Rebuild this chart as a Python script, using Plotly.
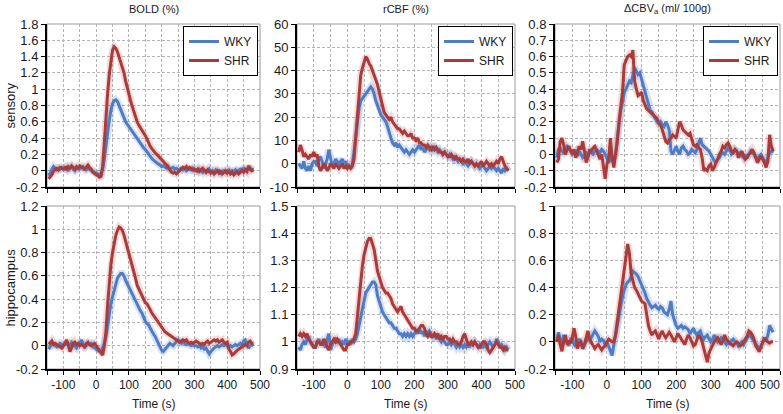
import plotly.graph_objects as go

# time base (s), one sample every 5 s
time_s = list(range(-145, 481, 5))
time_ticks = [-100, 0, 100, 200, 300, 400, 500]

# ---- sensory row ----
bold_sens_wky = [
    -0.06, -0.03, 0.02, 0.05, 0.03, 0.01, 0.03, 0.02, 0.04, 0.03,
    0.02, 0.04, 0.01, 0.03, 0.05, 0.02, 0.00, 0.03, 0.04, 0.02,
    0.03, 0.05, 0.02, 0.01, 0.03, 0.02, 0.01, -0.01, -0.02, -0.03,
    -0.04, -0.05, -0.03, 0.02, 0.15, 0.32, 0.48, 0.62, 0.74, 0.82,
    0.86, 0.87, 0.85, 0.80, 0.74, 0.68, 0.63, 0.60, 0.57, 0.54,
    0.51, 0.48, 0.45, 0.42, 0.39, 0.36, 0.33, 0.30, 0.28, 0.26,
    0.23, 0.21, 0.18, 0.15, 0.13, 0.11, 0.10, 0.08, 0.07, 0.05,
    0.06, 0.04, 0.03, 0.05, 0.02, 0.03, 0.04, 0.02, 0.03, 0.01,
    0.02, 0.03, 0.01, 0.02, 0.00, 0.03, 0.02, 0.01, 0.03, 0.00,
    0.01, -0.01, 0.02, 0.00, -0.02, 0.01, 0.00, -0.01, 0.02, -0.01,
    0.00, -0.02, 0.01, -0.01, 0.00, -0.03, -0.01, 0.00, -0.02, -0.01,
    0.01, -0.02, 0.00, -0.01, 0.01, -0.02, 0.00, 0.02, 0.01, 0.03,
    0.02, 0.00, 0.03, 0.01, 0.02, 0.01,
]
bold_sens_shr = [
    -0.10, -0.08, -0.05, -0.01, 0.02, 0.03, 0.01, 0.04, 0.03, 0.02,
    0.04, 0.02, 0.05, 0.03, 0.06, 0.04, 0.02, 0.05, 0.03, 0.06,
    0.04, 0.03, 0.02, 0.05, 0.07, 0.04, 0.02, -0.02, -0.04, -0.05,
    -0.06, -0.08, -0.07, 0.05, 0.35, 0.68, 0.95, 1.18, 1.36, 1.48,
    1.52, 1.50, 1.46, 1.40, 1.33, 1.27, 1.20, 1.10, 1.01, 0.93,
    0.86, 0.79, 0.72, 0.66, 0.60, 0.56, 0.53, 0.49, 0.46, 0.43,
    0.39, 0.34, 0.30, 0.27, 0.24, 0.22, 0.20, 0.18, 0.16, 0.14,
    0.12, 0.10, 0.07, 0.04, 0.01, -0.02, -0.03, -0.02, -0.04, -0.02,
    0.00, 0.02, 0.04, 0.03, 0.05, 0.02, 0.04, 0.03, 0.01, 0.02,
    0.00, 0.02, -0.01, 0.01, 0.03, 0.00, -0.02, 0.01, -0.01, -0.03,
    -0.01, -0.04, -0.02, 0.00, -0.03, -0.01, -0.04, -0.02, 0.00, -0.03,
    -0.01, -0.04, -0.02, -0.05, -0.03, -0.01, -0.04, -0.02, 0.00, -0.02,
    0.01, -0.01, 0.06, 0.03, 0.00, 0.01,
]
cbf_sens_wky = [
    0, -1, -2, 1, -2, -3, -1, -3, 0, 1,
    1, -1, 2, 3, 1, -2, 0, 2, 6, 3,
    -1, 0, 2, 1, 0, 1, 2, 0, 1, -1,
    -1, -2, 0, 5, 12, 18, 24, 27, 28, 29,
    30, 31, 32, 33, 32, 30, 27, 25, 23, 21,
    20, 19, 18, 16, 13, 11, 9, 8, 9, 7,
    8, 7, 6, 5, 6, 5, 4, 5, 6, 5,
    6, 7, 8, 6, 7, 5, 6, 7, 6, 7,
    6, 7, 6, 5, 6, 5, 4, 5, 4, 3,
    4, 3, 2, 3, 2, 1, 2, 1, 0, 1,
    0, -1, 0, 1, 0, -1, 0, -1, -2, -1,
    -1, -2, -3, -2, -1, -2, -1, -2, -3, -2,
    -3, -4, -2, -3, -2, -3,
]
cbf_sens_shr = [
    5, 8, 6, 3, 4, 3, 2, 4, 3, 5,
    3, 4, -1, -3, -2, 0, -1, -3, -2, 0,
    -1, -2, 0, -1, -2, -1, 0, -2, -1, -2,
    -1, -2, -1, 2, 12, 22, 32, 38, 41, 44,
    46, 45, 43, 42, 40, 38, 36, 34, 31, 28,
    25, 22, 21, 20, 19, 20, 18, 17, 16, 15,
    15, 14, 13, 14, 13, 12, 12, 13, 11, 11,
    10, 11, 9, 9, 8, 8, 7, 8, 7, 6,
    7, 6, 7, 6, 5, 5, 4, 5, 4, 3,
    3, 4, 3, 2, 3, 2, 2, 1, 2, 1,
    1, 2, 0, 1, 0, -1, 0, -1, 0, 1,
    -1, 0, 1, 0, -1, 0, -1, 0, 1, 0,
    2, 3, 1, -1, -2, -3,
]
cbv_sens_wky = [
    -0.02, 0.03, 0.04, 0.02, 0.01, 0.03, 0.05, 0.04, 0.02, 0.00,
    0.01, 0.02, -0.01, 0.02, 0.00, -0.02, -0.01, 0.01, 0.00, 0.02,
    0.01, 0.00, 0.02, 0.03, 0.02, 0.01, 0.03, 0.02, 0.00, -0.02,
    -0.05, -0.03, -0.04, -0.02, 0.00, 0.10, 0.19, 0.27, 0.32, 0.38,
    0.40, 0.43, 0.45, 0.44, 0.48, 0.53, 0.51, 0.49, 0.50, 0.46,
    0.43, 0.38, 0.35, 0.30, 0.27, 0.26, 0.24, 0.22, 0.20, 0.19,
    0.20, 0.18, 0.17, 0.20, 0.18, 0.15, 0.02, 0.00, 0.03, 0.05,
    0.02, 0.00, 0.04, 0.05, 0.03, 0.02, 0.00, 0.01, 0.03, 0.02,
    0.01, 0.03, 0.07, 0.10, 0.06, 0.05, 0.04, 0.03, 0.02, 0.00,
    -0.02, -0.04, -0.05, -0.03, -0.02, 0.00, 0.01, 0.00, 0.02, 0.04,
    0.03, 0.00, 0.01, 0.03, 0.02, 0.00, 0.01, -0.01, -0.02, 0.00,
    -0.02, 0.00, 0.02, 0.01, 0.00, -0.02, -0.03, -0.01, 0.00, -0.02,
    -0.04, -0.05, -0.02, 0.01, 0.02, 0.01,
]
cbv_sens_shr = [
    -0.05, -0.03, 0.08, 0.10, 0.06, 0.00, 0.03, 0.05, 0.02, 0.01,
    0.03, -0.02, 0.01, 0.05, 0.03, 0.08, 0.02, -0.05, -0.02, 0.03,
    0.02, 0.04, 0.05, 0.02, 0.00, -0.03, 0.00, -0.08, -0.15, -0.06,
    -0.03, 0.10, -0.02, -0.08, 0.00, 0.08, 0.20, 0.30, 0.38, 0.55,
    0.58, 0.60, 0.61, 0.60, 0.64, 0.45, 0.40, 0.36, 0.37, 0.38,
    0.33, 0.30, 0.28, 0.27, 0.26, 0.25, 0.24, 0.23, 0.22, 0.19,
    0.18, 0.15, 0.12, 0.08, 0.07, 0.09, 0.10, 0.12, 0.11, 0.10,
    0.15, 0.20, 0.18, 0.15, 0.14, 0.13, 0.12, 0.13, 0.10, 0.06,
    0.05, 0.06, 0.04, 0.03, -0.02, -0.10, -0.09, -0.10, -0.07, -0.06,
    -0.10, -0.08, -0.05, -0.03, 0.00, 0.02, 0.05, 0.04, 0.06, 0.07,
    0.05, 0.02, 0.01, 0.03, 0.02, -0.02, 0.00, 0.02, -0.01, -0.03,
    -0.02, 0.00, 0.01, 0.03, 0.01, -0.02, -0.05, -0.03, -0.01, -0.03,
    -0.05, -0.08, -0.04, 0.12, 0.05, 0.02,
]

# ---- hippocampus row ----
bold_hip_wky = [
    -0.03, -0.01, 0.02, 0.01, 0.00, -0.01, 0.00, 0.02, 0.01, 0.00,
    0.01, 0.02, 0.00, 0.01, 0.03, 0.01, 0.00, -0.02, 0.01, 0.02,
    0.05, 0.02, -0.01, 0.00, 0.02, 0.01, 0.02, -0.01, -0.02, -0.03,
    -0.04, -0.05, -0.05, -0.02, 0.02, 0.08, 0.18, 0.28, 0.36, 0.42,
    0.48, 0.53, 0.58, 0.60, 0.62, 0.62, 0.60, 0.56, 0.53, 0.50,
    0.47, 0.44, 0.41, 0.38, 0.35, 0.33, 0.30, 0.28, 0.24, 0.21,
    0.19, 0.18, 0.15, 0.12, 0.10, 0.08, 0.05, 0.01, -0.02, -0.04,
    -0.05, -0.03, -0.02, 0.00, 0.02, 0.01, 0.00, 0.02, 0.04, 0.05,
    0.03, 0.02, 0.03, 0.02, 0.01, 0.02, 0.01, 0.00, 0.01, 0.00,
    0.00, -0.01, 0.00, -0.02, -0.01, -0.03, -0.02, -0.05, -0.07, -0.05,
    -0.03, -0.02, -0.01, 0.00, -0.01, 0.00, 0.01, 0.00, 0.01, 0.00,
    -0.01, 0.00, -0.01, 0.00, 0.01, 0.00, 0.01, 0.02, 0.00, 0.04,
    0.05, 0.02, -0.02, 0.00, 0.01, 0.00,
]
bold_hip_shr = [
    0.03, 0.02, 0.04, 0.01, 0.02, 0.01, 0.00, -0.01, -0.02, 0.00,
    0.02, 0.05, 0.01, -0.05, -0.02, 0.02, 0.03, 0.01, 0.02, 0.00,
    0.01, 0.00, -0.01, 0.02, 0.03, 0.01, 0.00, 0.01, 0.02, 0.00,
    -0.02, -0.03, -0.05, -0.08, 0.00, 0.12, 0.35, 0.55, 0.70, 0.80,
    0.88, 0.95, 0.99, 1.02, 1.01, 0.99, 0.95, 0.90, 0.85, 0.79,
    0.74, 0.69, 0.64, 0.58, 0.52, 0.49, 0.46, 0.43, 0.40, 0.37,
    0.36, 0.34, 0.31, 0.28, 0.26, 0.24, 0.22, 0.20, 0.17, 0.15,
    0.13, 0.12, 0.11, 0.10, 0.09, 0.08, 0.07, 0.06, 0.05, 0.04,
    0.03, 0.04, 0.05, 0.04, 0.05, 0.03, 0.02, 0.03, 0.02, 0.03,
    0.04, 0.03, 0.02, 0.01, 0.02, 0.01, 0.03, 0.04, 0.02, 0.03,
    0.04, 0.05, 0.04, 0.05, 0.03, 0.04, 0.05, 0.03, 0.02, 0.03,
    -0.03, -0.05, -0.08, -0.07, -0.05, -0.04, -0.03, -0.02, -0.01, 0.00,
    0.01, 0.00, 0.03, 0.04, 0.02, 0.02,
]
cbf_hip_wky = [
    0.98, 0.97, 0.99, 1.00, 0.99, 1.01, 1.02, 1.00, 0.99, 0.98,
    0.98, 1.00, 1.01, 0.99, 1.00, 0.99, 0.98, 1.01, 1.03, 0.97,
    0.99, 1.00, 1.01, 1.00, 1.01, 0.99, 1.00, 0.99, 1.01, 1.00,
    1.00, 0.99, 1.01, 1.00, 1.01, 1.03, 1.06, 1.10, 1.13, 1.16,
    1.18, 1.19, 1.20, 1.21, 1.22, 1.22, 1.21, 1.17, 1.15, 1.13,
    1.11, 1.10, 1.09, 1.08, 1.07, 1.07, 1.06, 1.05, 1.05, 1.04,
    1.03, 1.03, 1.02, 1.03, 1.02, 1.03, 1.02, 1.03, 1.02, 1.03,
    1.04, 1.03, 1.05, 1.03, 1.04, 1.02, 1.04, 1.03, 1.04, 1.03,
    1.02, 1.03, 1.01, 1.02, 1.01, 1.00, 1.01, 1.00, 0.99, 0.99,
    1.00, 0.99, 1.00, 0.99, 0.98, 0.99, 0.98, 0.99, 0.98, 0.99,
    0.98, 0.99, 0.98, 1.00, 0.99, 1.00, 0.99, 0.98, 0.99, 0.98,
    0.98, 0.99, 0.98, 0.99, 1.00, 0.99, 0.98, 0.99, 1.01, 1.00,
    0.98, 0.99, 0.98, 0.97, 0.98, 0.97,
]
cbf_hip_shr = [
    1.02, 1.03, 1.02, 1.03, 1.02, 1.03, 1.01, 1.00, 0.99, 0.98,
    0.98, 1.00, 1.00, 0.99, 0.99, 1.01, 1.00, 0.98, 0.97, 0.99,
    1.00, 1.01, 1.00, 1.01, 1.00, 0.99, 0.98, 0.97, 0.97, 0.99,
    0.99, 1.00, 1.00, 1.01, 1.03, 1.10, 1.17, 1.22, 1.28, 1.32,
    1.35, 1.37, 1.38, 1.38, 1.36, 1.34, 1.30, 1.26, 1.24, 1.22,
    1.20, 1.19, 1.18, 1.18, 1.17, 1.16, 1.14, 1.13, 1.12, 1.11,
    1.12, 1.13, 1.11, 1.10, 1.09, 1.08, 1.07, 1.06, 1.05, 1.05,
    1.04, 1.04, 1.05, 1.06, 1.06, 1.05, 1.03, 1.02, 1.03, 1.02,
    1.02, 1.03, 1.02, 1.03, 1.01, 1.02, 1.01, 1.02, 1.02, 1.01,
    1.01, 1.00, 1.01, 1.00, 1.00, 0.99, 0.99, 1.00, 1.02, 1.03,
    1.01, 0.99, 0.99, 1.00, 0.99, 1.00, 0.99, 0.98, 0.98, 0.99,
    1.00, 1.00, 0.99, 0.97, 0.96, 0.97, 0.98, 0.99, 1.00, 0.99,
    0.98, 0.98, 0.97, 0.98, 0.97, 0.97,
]
cbv_hip_wky = [
    0.00, 0.07, 0.02, -0.02, 0.05, 0.01, 0.00, -0.03, 0.02, 0.03,
    -0.02, -0.03, 0.00, 0.02, -0.01, -0.05, -0.02, 0.00, 0.02, 0.01,
    0.03, 0.05, 0.08, 0.06, 0.04, 0.00, 0.02, 0.01, -0.02, 0.00,
    -0.03, -0.06, -0.10, -0.02, 0.05, 0.12, 0.20, 0.28, 0.33, 0.38,
    0.42, 0.44, 0.45, 0.48, 0.52, 0.51, 0.50, 0.48, 0.45, 0.42,
    0.40, 0.36, 0.32, 0.29, 0.27, 0.25, 0.26, 0.27, 0.25, 0.24,
    0.26, 0.25, 0.22, 0.21, 0.20, 0.24, 0.30, 0.20, 0.15, 0.12,
    0.10, 0.11, 0.12, 0.10, 0.11, 0.10, 0.09, 0.06, 0.08, 0.10,
    0.07, 0.05, 0.07, 0.08, 0.04, 0.02, 0.04, 0.05, 0.02, 0.00,
    0.02, 0.05, 0.03, 0.00, 0.01, 0.03, 0.02, 0.00, -0.02, 0.00,
    -0.02, 0.01, 0.02, 0.00, -0.01, -0.03, -0.01, 0.00, -0.02, 0.00,
    0.03, 0.05, 0.04, 0.02, 0.00, -0.02, -0.03, -0.05, -0.03, 0.00,
    0.02, 0.01, 0.05, 0.12, 0.10, 0.07,
]
cbv_hip_shr = [
    0.00, 0.05, -0.02, -0.07, 0.00, 0.05, -0.02, 0.01, -0.01, 0.03,
    0.10, 0.04, -0.05, -0.01, 0.00, -0.05, -0.02, 0.03, 0.08, 0.02,
    0.00, -0.02, -0.05, -0.03, -0.02, -0.04, -0.06, -0.04, -0.03, 0.00,
    0.02, 0.01, 0.00, 0.00, 0.05, 0.15, 0.25, 0.35, 0.45, 0.55,
    0.65, 0.72, 0.65, 0.50, 0.45, 0.40, 0.38, 0.35, 0.33, 0.30,
    0.29, 0.28, 0.20, 0.12, 0.08, 0.05, 0.07, 0.08, 0.05, 0.02,
    0.06, 0.08, 0.05, 0.03, 0.05, 0.07, 0.05, 0.03, 0.00, 0.03,
    0.06, 0.04, 0.02, 0.00, -0.02, 0.02, 0.05, 0.03, 0.00, -0.03,
    -0.02, 0.02, 0.05, 0.03, 0.00, -0.05, -0.10, -0.15, -0.08, -0.05,
    -0.02, 0.00, 0.02, 0.03, 0.00, -0.02, 0.01, 0.05, 0.02, 0.00,
    -0.01, -0.02, -0.03, -0.01, 0.00, -0.01, -0.03, -0.02, 0.00, 0.02,
    0.04, 0.08, 0.07, 0.05, 0.02, -0.03, -0.05, -0.07, -0.04, 0.00,
    0.03, 0.01, 0.00, -0.01, 0.00, 0.00,
]

# y tick values per panel
bold_sens_ticks = [-0.2, 0, 0.2, 0.4, 0.6, 0.8, 1, 1.2, 1.4, 1.6, 1.8]
cbf_sens_ticks = [-10, 0, 10, 20, 30, 40, 50, 60]
cbv_sens_ticks = [-0.2, -0.1, 0, 0.1, 0.2, 0.3, 0.4, 0.5, 0.6, 0.7, 0.8]
bold_hip_ticks = [-0.2, 0, 0.2, 0.4, 0.6, 0.8, 1, 1.2]
cbf_hip_ticks = [0.9, 1, 1.1, 1.2, 1.3, 1.4, 1.5]
cbv_hip_ticks = [-0.2, 0, 0.2, 0.4, 0.6, 0.8, 1]

col_titles = ["BOLD (%)", "rCBF (%)", "\u0394CBV<sub>a</sub> (ml/ 100g)"]
row_titles = ["sensory", "hippocampus"]

panels = [
    (bold_sens_wky, bold_sens_shr, bold_sens_ticks),
    (cbf_sens_wky, cbf_sens_shr, cbf_sens_ticks),
    (cbv_sens_wky, cbv_sens_shr, cbv_sens_ticks),
    (bold_hip_wky, bold_hip_shr, bold_hip_ticks),
    (cbf_hip_wky, cbf_hip_shr, cbf_hip_ticks),
    (cbv_hip_wky, cbv_hip_shr, cbv_hip_ticks),
]
for wky, shr, _ in panels:
    assert len(wky) == len(time_s) and len(shr) == len(time_s)

W, H = 783, 414
BLUE = "#4f7cc4"
RED = "#ab3a3a"
GRID = "#b4b4b4"
DASH = "3px,2px"
FONT = "Liberation Sans, Arial, sans-serif"

# panel boxes in pixels (left, right) and (top, bottom)
col_px = [(47, 260), (297, 515), (555, 780)]
row_px = [(24, 187), (206, 369)]

fig = go.Figure()
layout = dict(width=W, height=H, margin=dict(l=0, r=0, t=0, b=0),
              paper_bgcolor="white", plot_bgcolor="white", template="none",
              font=dict(family=FONT, size=12, color="#1a1a1a"),
              shapes=[], annotations=[])

for i, (wky, shr, yticks) in enumerate(panels):
    r, c = divmod(i, 3)
    n = "" if i == 0 else str(i + 1)
    xa, ya = "x" + n, "y" + n
    legend = "legend" if c == 0 else "legend" + str(c + 1)

    # faint error band behind each mean trace
    for vals, band in [(wky, "rgba(79,124,196,0.22)"), (shr, "rgba(205,110,110,0.25)")]:
        fig.add_trace(go.Scatter(x=time_s, y=vals, xaxis=xa, yaxis=ya, mode="lines",
                                 line=dict(color=band, width=7), hoverinfo="skip",
                                 showlegend=False))
    for vals, color, name in [(wky, BLUE, "WKY"), (shr, RED, "SHR")]:
        fig.add_trace(go.Scatter(x=time_s, y=vals, xaxis=xa, yaxis=ya, mode="lines",
                                 name=name, line=dict(color=color, width=3),
                                 showlegend=(r == 0), legend=legend))

    x0, x1 = col_px[c]
    y0, y1 = row_px[r]
    # the last label of the right-hand panel is set flush right, as Excel did
    edge_label = (r == 1 and c == 2)
    xtext = [("" if edge_label and v == time_ticks[-1] else str(v)) for v in time_ticks]
    layout["xaxis" + n] = dict(
        domain=[x0 / W, x1 / W], anchor=ya, range=[-150, 500],
        tickmode="array", tickvals=time_ticks, ticktext=xtext,
        showticklabels=(r == 1), ticklabeloverflow="allow",
        ticks="outside", ticklen=4, tickcolor="black",
        showline=True, linecolor="black", linewidth=2,
        showgrid=True, gridcolor=GRID, griddash=DASH, gridwidth=1,
        minor=dict(tickmode="linear", tick0=-150, dtick=50, ticks="outside",
                   ticklen=4, tickcolor="black", showgrid=True,
                   gridcolor=GRID, griddash=DASH, gridwidth=1),
        zeroline=False, automargin=False, tickfont=dict(size=12))
    if edge_label:
        layout["annotations"].append(dict(text=str(time_ticks[-1]), xref="paper",
                                          yref="paper", x=782 / W, y=1 - 385 / H,
                                          xanchor="right", yanchor="middle",
                                          showarrow=False, font=dict(size=12)))
    layout["yaxis" + n] = dict(
        domain=[1 - y1 / H, 1 - y0 / H], anchor=xa,
        range=[yticks[0], yticks[-1]],
        tickmode="array", tickvals=yticks, ticktext=[f"{v:g}" for v in yticks],
        ticks="outside", ticklen=4, tickcolor="black",
        showline=True, linecolor="black", linewidth=2,
        showgrid=True, gridcolor=GRID, griddash=DASH, gridwidth=1,
        zeroline=False, automargin=False, tickfont=dict(size=13))
    layout["shapes"].append(dict(type="rect", xref=xa + " domain", yref=ya + " domain",
                                 x0=0, x1=1, y0=0, y1=1, layer="below",
                                 line=dict(color="#9a9a9a", width=1)))
    if r == 0:
        layout[legend] = dict(x=(x1 - 2) / W, xanchor="right", y=1 - (y0 + 2) / H,
                              yanchor="top", bgcolor="white", bordercolor="black",
                              borderwidth=1, font=dict(size=12), tracegroupgap=0,
                              itemwidth=30)
    else:
        layout["annotations"].append(dict(text="Time (s)", xref="paper", yref="paper",
                                          x=(x0 + x1) / 2 / W, y=1 - 404 / H,
                                          xanchor="center", yanchor="middle",
                                          showarrow=False, font=dict(size=12)))

for c, title in enumerate(col_titles):
    x0, x1 = col_px[c]
    layout["annotations"].append(dict(text=title, xref="paper", yref="paper",
                                      x=(x0 + x1) / 2 / W, y=1 - 9 / H,
                                      xanchor="center", yanchor="middle",
                                      showarrow=False, font=dict(size=11)))
for r, title in enumerate(row_titles):
    y0, y1 = row_px[r]
    layout["annotations"].append(dict(text=title, xref="paper", yref="paper",
                                      x=10 / W, y=1 - (y0 + y1) / 2 / H, textangle=-90,
                                      xanchor="center", yanchor="middle",
                                      showarrow=False, font=dict(size=13)))

fig.update_layout(**layout)
# drop the page's default body margin so the 783x414 figure fills the window exactly
fig.write_html("out.html", config={"displayModeBar": False},
               post_script="document.body.style.margin='0px';")
